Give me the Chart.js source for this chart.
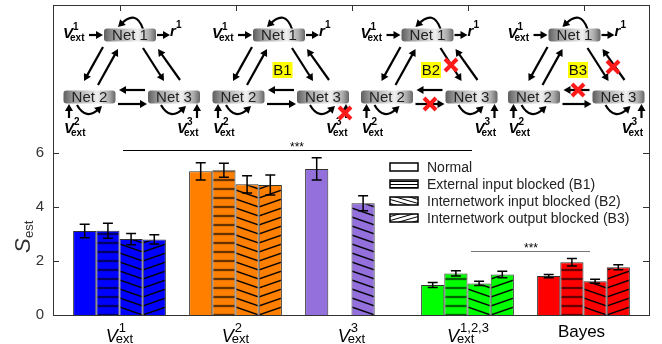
<!DOCTYPE html>
<html>
<head>
<meta charset="utf-8">
<script src="https://cdn.jsdelivr.net/npm/chart.js@4"></script>
<style>
  body { margin: 0; background: #fff; }
  #wrap { width: 662px; height: 344px; }
</style>
</head>
<body>
<div id="wrap"><canvas id="graph" width="662" height="344"></canvas></div>
<script>
const graphRef = document.getElementById('graph');

// Data
const categories = ['V1', 'V2', 'V3', 'V123', 'Bayes'];
const categorySup = ['1', '2', '3', '1,2,3', null];
const groupColors = ['#0000ff', '#ff8000', '#9370db', '#00ff00', '#ff0000'];

const normal = [3.11, 5.32, 5.41, 1.11, 1.44];
const blocked1 = [3.12, 5.36, null, 1.54, 1.95];
const blocked2 = [2.81, 4.84, 4.14, 1.17, 1.25];
const blocked3 = [2.80, 4.81, null, 1.50, 1.77];

const normalErr = [0.25, 0.32, 0.41, 0.09, 0.06];
const blocked1Err = [0.28, 0.26, null, 0.10, 0.14];
const blocked2Err = [0.21, 0.32, 0.28, 0.08, 0.07];
const blocked3Err = [0.17, 0.37, null, 0.12, 0.09];

const legendLabels = [
  'Normal',
  'External input blocked (B1)',
  'Internetwork input blocked (B2)',
  'Internetwork output blocked (B3)',
];
const yTicks = [0, 2, 4, 6];

const FONT = '"Liberation Sans", Arial, sans-serif';

// hatch patterns
function makePattern(color, type, small) {
  const c = document.createElement('canvas');
  const ctx = c.getContext('2d');
  let W, H;
  if (type === 'h') { W = 8; H = small ? 3 : 9; }
  else { W = small ? 14 : 26; H = small ? 4 : 9; }
  c.width = W; c.height = H;
  ctx.fillStyle = color;
  ctx.fillRect(0, 0, W, H);
  ctx.strokeStyle = '#000';
  ctx.lineWidth = small ? 1 : 1.4;
  ctx.beginPath();
  if (type === 'h') {
    ctx.moveTo(0, H / 2); ctx.lineTo(W, H / 2);
  } else {
    for (let k = -1; k <= 1; k++) {
      if (type === 'b') { ctx.moveTo(0, k * H); ctx.lineTo(W, (k + 1) * H); }
      else { ctx.moveTo(0, (k + 1) * H); ctx.lineTo(W, k * H); }
    }
  }
  ctx.stroke();
  return ctx.createPattern(c, 'repeat');
}

const fills = [
  groupColors,
  groupColors.map(c => makePattern(c, 'h')),
  groupColors.map(c => makePattern(c, 'b')),
  groupColors.map(c => makePattern(c, 'f')),
];
const legendFills = [
  '#fff',
  makePattern('#fff', 'h', true),
  makePattern('#fff', 'b', true),
  makePattern('#fff', 'f', true),
];
const errors = [normalErr, blocked1Err, blocked2Err, blocked3Err];

// diagram helpers
function arrow(ctx, x1, y1, x2, y2) {
  const a = Math.atan2(y2 - y1, x2 - x1);
  const hl = 7, hw = 4;
  ctx.beginPath();
  ctx.moveTo(x1, y1);
  ctx.lineTo(x2 - hl * 0.8 * Math.cos(a), y2 - hl * 0.8 * Math.sin(a));
  ctx.stroke();
  head(ctx, x2, y2, a, hl, hw);
}
function head(ctx, x, y, a, hl, hw) {
  ctx.beginPath();
  ctx.moveTo(x, y);
  ctx.lineTo(x - hl * Math.cos(a) + hw * Math.sin(a), y - hl * Math.sin(a) - hw * Math.cos(a));
  ctx.lineTo(x - hl * Math.cos(a) - hw * Math.sin(a), y - hl * Math.sin(a) + hw * Math.cos(a));
  ctx.closePath();
  ctx.fill();
}
function loop(ctx, x1, y1, cx, cy, x2, y2) {
  const a = Math.atan2(y2 - cy, x2 - cx);
  ctx.beginPath();
  ctx.moveTo(x1, y1);
  ctx.quadraticCurveTo(cx, cy, x2 - 4 * Math.cos(a), y2 - 4 * Math.sin(a));
  ctx.stroke();
  head(ctx, x2, y2, a, 7, 4);
}
function netNode(ctx, cx, cy, label) {
  const w = 52, h = 13;
  const g = ctx.createLinearGradient(cx - w / 2, 0, cx + w / 2, 0);
  g.addColorStop(0, '#5e5e5e');
  g.addColorStop(0.2, '#a0a0a0');
  g.addColorStop(0.65, '#efefef');
  g.addColorStop(0.88, '#aaa');
  g.addColorStop(1, '#666');
  ctx.fillStyle = g;
  ctx.beginPath();
  ctx.roundRect(cx - w / 2, cy - h / 2, w, h, 3);
  ctx.fill();
  ctx.fillStyle = '#222';
  ctx.font = '15px ' + FONT;
  ctx.textAlign = 'center';
  ctx.textBaseline = 'middle';
  ctx.fillText(label, cx, cy + 1);
}
function vLabel(ctx, x, y, sup) {
  ctx.textAlign = 'left';
  ctx.textBaseline = 'alphabetic';
  ctx.font = 'italic bold 15px ' + FONT;
  ctx.fillText('V', x, y);
  const w = ctx.measureText('V').width;
  ctx.font = 'bold 10px ' + FONT;
  ctx.fillText(sup, x + w, y - 8);
  ctx.fillText('ext', x + w - 3, y + 3);
}
function redX(ctx, x, y) {
  ctx.save();
  ctx.strokeStyle = '#ff1a1a';
  ctx.lineWidth = 4;
  ctx.beginPath();
  ctx.moveTo(x - 6, y - 6); ctx.lineTo(x + 6, y + 6);
  ctx.moveTo(x + 6, y - 6); ctx.lineTo(x - 6, y + 6);
  ctx.stroke();
  ctx.restore();
}
function yellowTag(ctx, x, y, text) {
  ctx.fillStyle = '#ffff00';
  ctx.fillRect(x - 10, y - 8, 20, 16);
  ctx.fillStyle = '#111';
  ctx.font = '15px ' + FONT;
  ctx.textAlign = 'center';
  ctx.textBaseline = 'middle';
  ctx.fillText(text, x, y + 1);
}
function drawPanel(ctx, dx, tag, crosses) {
  ctx.save();
  ctx.translate(dx, 0);
  ctx.strokeStyle = '#000';
  ctx.fillStyle = '#000';
  ctx.lineWidth = 2.2;
  arrow(ctx, 89, 35, 103, 35);
  arrow(ctx, 157, 35, 170, 35);
  arrow(ctx, 103, 47, 84, 81);
  arrow(ctx, 98, 85, 118, 49);
  arrow(ctx, 143, 48, 164, 81);
  arrow(ctx, 180, 80, 158, 49);
  arrow(ctx, 145, 90, 119, 90);
  arrow(ctx, 118, 104, 147, 104);
  arrow(ctx, 69, 118, 69, 104);
  arrow(ctx, 197, 118, 197, 104);
  loop(ctx, 143, 29, 136, 9, 118, 27);
  loop(ctx, 77, 105, 86, 121, 102, 106);
  loop(ctx, 161, 105, 170, 121, 186, 106);
  netNode(ctx, 130, 35, 'Net 1');
  netNode(ctx, 89.5, 97, 'Net 2');
  netNode(ctx, 174, 97, 'Net 3');
  ctx.fillStyle = '#000';
  vLabel(ctx, 63, 38, '1');
  vLabel(ctx, 64, 133, '2');
  vLabel(ctx, 177, 133, '3');
  ctx.font = 'italic bold 15px ' + FONT;
  ctx.textAlign = 'left';
  ctx.fillText('r', 170, 36);
  ctx.font = 'bold 10px ' + FONT;
  ctx.fillText('1', 176, 28);
  if (tag) yellowTag(ctx, 133.5, 70, tag);
  crosses.forEach(([x, y]) => redX(ctx, x, y));
  ctx.restore();
}

const decorPlugin = {
  id: 'decor',
  beforeDatasetsDraw(chart) {
    // line the B2 and B3 hatches up so they meet as chevrons
    const base = chart.scales.y.getPixelForValue(0);
    const meta2 = chart.getDatasetMeta(2);
    const meta3 = chart.getDatasetMeta(3);
    categories.forEach((c, j) => {
      const el = meta2.data[j];
      const edge = el.x + el.width / 2;
      const m = new DOMMatrix().translate(edge, base);
      fills[2][j].setTransform(m);
      fills[3][j].setTransform(m);
      const el1 = chart.getDatasetMeta(1).data[j];
      fills[1][j].setTransform(new DOMMatrix().translate(0, base + 4.5));
    });
  },
  afterDatasetsDraw(chart) {
    const ctx = chart.ctx;
    const y = chart.scales.y;
    // error bars
    ctx.save();
    ctx.strokeStyle = '#000';
    ctx.lineWidth = 1.5;
    errors.forEach((errs, di) => {
      const meta = chart.getDatasetMeta(di);
      const vals = chart.data.datasets[di].data;
      meta.data.forEach((el, j) => {
        if (vals[j] == null) return;
        const top = y.getPixelForValue(vals[j] + errs[j]);
        const bot = y.getPixelForValue(vals[j] - errs[j]);
        ctx.beginPath();
        ctx.moveTo(el.x, top); ctx.lineTo(el.x, bot);
        ctx.moveTo(el.x - 5, top); ctx.lineTo(el.x + 5, top);
        ctx.moveTo(el.x - 5, bot); ctx.lineTo(el.x + 5, bot);
        ctx.stroke();
      });
    });
    ctx.restore();
  },
  afterDraw(chart) {
    const ctx = chart.ctx;
    const x = chart.scales.x;
    const y = chart.scales.y;
    const L = 53, R = 649, T = 5, B = y.getPixelForValue(0);
    ctx.save();
    // frame
    ctx.strokeStyle = '#333';
    ctx.lineWidth = 1;
    ctx.strokeRect(L + 0.5, T + 0.5, R - L, B - T);
    categories.forEach((c, i) => {
      const cx = Math.round(x.getPixelForValue(i)) + 0.5;
      ctx.beginPath(); ctx.moveTo(cx, T); ctx.lineTo(cx, T + 6); ctx.stroke();
    });
    yTicks.forEach(v => {
      const py = Math.round(y.getPixelForValue(v)) + 0.5;
      ctx.beginPath();
      ctx.moveTo(R, py); ctx.lineTo(R - 6, py);
      ctx.moveTo(L, py); ctx.lineTo(L + 6, py);
      ctx.stroke();
    });
    // y tick labels
    ctx.fillStyle = '#333';
    ctx.font = '15px ' + FONT;
    ctx.textAlign = 'center';
    ctx.textBaseline = 'middle';
    yTicks.forEach(v => ctx.fillText(String(v), 40, y.getPixelForValue(v)));
    // y title
    ctx.save();
    ctx.translate(20, 238);
    ctx.rotate(-Math.PI / 2);
    ctx.textAlign = 'left';
    ctx.textBaseline = 'alphabetic';
    ctx.font = 'italic 22px ' + FONT;
    ctx.fillText('S', -15, 10);
    ctx.font = '13px ' + FONT;
    ctx.fillText('est', 0, 13);
    ctx.restore();
    // x labels
    ctx.fillStyle = '#000';
    categories.forEach((c, i) => {
      const cx = x.getPixelForValue(i);
      const sup = categorySup[i];
      ctx.textBaseline = 'alphabetic';
      if (!sup) {
        ctx.font = '17px ' + FONT;
        ctx.textAlign = 'center';
        ctx.fillText(c, cx - 2, 337);
        return;
      }
      ctx.textAlign = 'left';
      ctx.font = 'italic 18px ' + FONT;
      const wV = ctx.measureText('V').width;
      ctx.font = '13px ' + FONT;
      const wS = ctx.measureText(sup).width;
      const wE = ctx.measureText('ext').width;
      const x0 = cx - (wV + Math.max(wS, wE - 2)) / 2;
      ctx.font = 'italic 18px ' + FONT;
      ctx.fillText('V', x0, 342);
      ctx.font = '13px ' + FONT;
      ctx.fillText(sup, x0 + wV + 1, 332);
      ctx.fillText('ext', x0 + wV - 2, 343);
    });
    // significance bars
    ctx.lineWidth = 1;
    ctx.strokeStyle = '#000';
    ctx.beginPath(); ctx.moveTo(123, 150.5); ctx.lineTo(472, 150.5); ctx.stroke();
    ctx.strokeStyle = '#777';
    ctx.beginPath(); ctx.moveTo(471, 251.5); ctx.lineTo(590, 251.5); ctx.stroke();
    ctx.fillStyle = '#000';
    ctx.font = '12px ' + FONT;
    ctx.textAlign = 'center';
    ctx.textBaseline = 'alphabetic';
    ctx.fillText('***', 297, 151);
    ctx.fillText('***', 531, 252);
    // legend
    legendLabels.forEach((label, i) => {
      const ly = 167 + i * 17;
      ctx.fillStyle = legendFills[i];
      ctx.fillRect(390, ly - 4, 28, 8);
      ctx.strokeStyle = '#000';
      ctx.lineWidth = 1.5;
      ctx.strokeRect(390, ly - 4, 28, 8);
      ctx.fillStyle = '#222';
      ctx.font = '14px ' + FONT;
      ctx.textAlign = 'left';
      ctx.textBaseline = 'middle';
      ctx.fillText(label, 427, ly + 1);
    });
    // network diagrams
    drawPanel(ctx, 0, null, []);
    drawPanel(ctx, 149, 'B1', [[196, 113]]);
    drawPanel(ctx, 297.5, 'B2', [[153.5, 65], [132.5, 104]]);
    drawPanel(ctx, 444.5, 'B3', [[168.5, 67], [133.5, 90]]);
    ctx.restore();
  },
};

const series = [normal, blocked1, blocked2, blocked3];
new Chart(graphRef, {
  type: 'bar',
  data: {
    labels: categories,
    datasets: series.map((data, i) => ({
      label: legendLabels[i],
      data,
      backgroundColor: fills[i],
      borderColor: '#333',
      borderWidth: 1,
      categoryPercentage: 0.8,
      barPercentage: 1.0,
    })),
  },
  options: {
    responsive: false,
    animation: false,
    layout: { padding: { left: 61.5, right: 20.5, top: 5, bottom: 29 } },
    scales: {
      x: { display: false },
      y: { display: false, min: 0, max: 11.48 },
    },
    plugins: {
      legend: { display: false },
      tooltip: { enabled: false },
    },
  },
  plugins: [decorPlugin],
});
</script>
</body>
</html>
